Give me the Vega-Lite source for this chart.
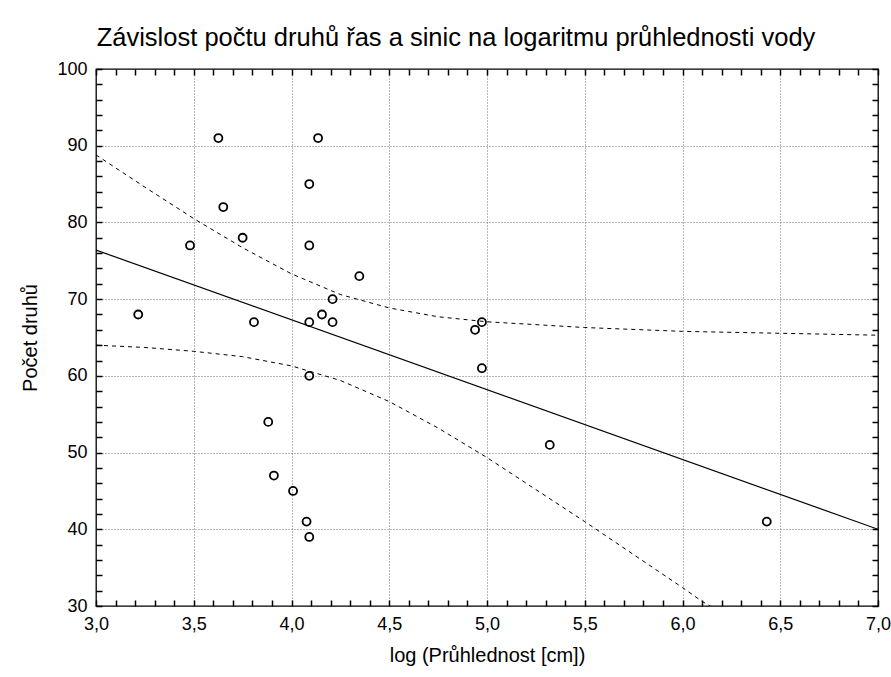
{
  "$schema": "https://vega.github.io/schema/vega-lite/v6.json",
  "autosize": {"type": "none"},
  "padding": {"left": 96, "top": 69, "right": 13, "bottom": 71},
  "width": 782,
  "height": 537,
  "background": "white",
  "title": {
    "text": "Závislost počtu druhů řas a sinic na logaritmu průhlednosti vody",
    "font": "Liberation Sans",
    "fontSize": 25.5,
    "fontWeight": "normal",
    "color": "#000000",
    "anchor": "middle",
    "frame": "group",
    "dx": -31,
    "offset": 9
  },
  "config": {"view": {"stroke": "#000000", "strokeWidth": 1.3}},
  "datasets": {
    "points": [
      {"x": 3.216, "y": 68}, {"x": 3.626, "y": 91}, {"x": 3.651, "y": 82}, {"x": 3.481, "y": 77},
      {"x": 4.136, "y": 91}, {"x": 4.091, "y": 85}, {"x": 3.750, "y": 78}, {"x": 4.091, "y": 77},
      {"x": 4.347, "y": 73}, {"x": 4.210, "y": 70}, {"x": 3.808, "y": 67}, {"x": 4.091, "y": 67},
      {"x": 4.156, "y": 68}, {"x": 4.210, "y": 67}, {"x": 4.091, "y": 60}, {"x": 3.881, "y": 54},
      {"x": 3.910, "y": 47}, {"x": 4.008, "y": 45}, {"x": 4.077, "y": 41}, {"x": 4.091, "y": 39},
      {"x": 4.939, "y": 66}, {"x": 4.974, "y": 67}, {"x": 4.974, "y": 61}, {"x": 5.321, "y": 51},
      {"x": 6.431, "y": 41}
    ],
    "fit": [{"x": 3.0, "y": 76.4}, {"x": 7.0, "y": 40.0}],
    "upper": [
      {"x": 3.0, "y": 88.8}, {"x": 3.25, "y": 84.6}, {"x": 3.5, "y": 80.5}, {"x": 3.75, "y": 76.7},
      {"x": 4.0, "y": 73.3}, {"x": 4.25, "y": 70.6}, {"x": 4.5, "y": 68.85}, {"x": 4.75, "y": 67.7},
      {"x": 5.0, "y": 67.05}, {"x": 5.5, "y": 66.3}, {"x": 6.0, "y": 65.8}, {"x": 6.5, "y": 65.55},
      {"x": 7.0, "y": 65.3}
    ],
    "lower": [
      {"x": 3.0, "y": 64.0}, {"x": 3.25, "y": 63.7}, {"x": 3.5, "y": 63.2}, {"x": 3.75, "y": 62.5},
      {"x": 4.0, "y": 61.3}, {"x": 4.25, "y": 59.4}, {"x": 4.5, "y": 56.65}, {"x": 4.75, "y": 53.2},
      {"x": 5.0, "y": 49.35}, {"x": 5.5, "y": 41.0}, {"x": 6.0, "y": 32.4}, {"x": 6.1, "y": 30.6},
      {"x": 6.25, "y": 28.4}
    ]
  },
  "resolve": {"axis": {"x": "independent", "y": "independent"}},
  "layer": [
    {
      "data": {"name": "lower"},
      "mark": {"type": "line", "color": "#000000", "strokeWidth": 1, "strokeDash": [4, 4], "clip": true},
      "encoding": {
        "x": {
          "field": "x", "type": "quantitative",
          "scale": {"domain": [3, 7], "nice": false, "zero": false},
          "axis": {
            "orient": "bottom",
            "title": "log (Průhlednost [cm])",
            "titleFont": "Liberation Sans", "titleFontSize": 20, "titleFontWeight": "normal", "titleColor": "#000000",
            "labelFont": "Liberation Sans", "labelFontSize": 18, "labelColor": "#000000",
            "values": [3.0,3.1,3.2,3.3,3.4,3.5,3.6,3.7,3.8,3.9,4.0,4.1,4.2,4.3,4.4,4.5,4.6,4.7,4.8,4.9,5.0,5.1,5.2,5.3,5.4,5.5,5.6,5.7,5.8,5.9,6.0,6.1,6.2,6.3,6.4,6.5,6.6,6.7,6.8,6.9,7.0],
            "labelExpr": "round(datum.value*10) % 5 == 0 ? replace(format(datum.value, '.1f'), '.', ',') : ''",
            "offset": -6,
            "ticks": true,
            "tickSize": 6,
            "tickColor": "#000000",
            "tickWidth": 1.5,
            "labelPadding": 9,
            "labelFlush": false,
            "labelOverlap": false,
            "domain": false,
            "grid": true,
            "gridColor": "#707070",
            "gridDash": [1, 2],
            "gridOpacity": {"condition": {"test": "round(datum.value*10) % 5 == 0 && datum.value > 3.01 && datum.value < 6.99", "value": 1}, "value": 0},
            "titlePadding": 12
          }
        },
        "y": {
          "field": "y", "type": "quantitative",
          "scale": {"domain": [30, 100], "nice": false, "zero": false},
          "axis": {
            "orient": "left",
            "title": "Počet druhů",
            "titleFont": "Liberation Sans", "titleFontSize": 20, "titleFontWeight": "normal", "titleColor": "#000000",
            "labelFont": "Liberation Sans", "labelFontSize": 18, "labelColor": "#000000",
            "values": [30,32,34,36,38,40,42,44,46,48,50,52,54,56,58,60,62,64,66,68,70,72,74,76,78,80,82,84,86,88,90,92,94,96,98,100],
            "labelExpr": "datum.value % 10 == 0 ? datum.label : ''",
            "offset": -6,
            "ticks": true,
            "tickSize": 6,
            "tickColor": "#000000",
            "tickWidth": 1.5,
            "labelPadding": 9,
            "labelOverlap": false,
            "labelFlush": false,
            "domain": false,
            "grid": true,
            "gridColor": "#707070",
            "gridDash": [1, 2],
            "gridOpacity": {"condition": {"test": "datum.value % 10 == 0 && datum.value > 30 && datum.value < 100", "value": 1}, "value": 0},
            "titlePadding": 16
          }
        }
      }
    },
    {
      "data": {"name": "upper"},
      "mark": {"type": "line", "color": "#000000", "strokeWidth": 1, "strokeDash": [4, 4], "clip": true},
      "encoding": {
        "x": {"field": "x", "type": "quantitative", "axis": null},
        "y": {"field": "y", "type": "quantitative", "axis": null}
      }
    },
    {
      "data": {"name": "fit"},
      "mark": {"type": "line", "color": "#000000", "strokeWidth": 1.2, "clip": true},
      "encoding": {
        "x": {
          "field": "x", "type": "quantitative",
          "axis": {
            "orient": "top", "title": null, "labels": false, "grid": false, "domain": false,
            "offset": -6,
            "ticks": true,
            "tickSize": 6,
            "tickColor": "#000000",
            "tickWidth": 1.5,
            "values": [3.0,3.1,3.2,3.3,3.4,3.5,3.6,3.7,3.8,3.9,4.0,4.1,4.2,4.3,4.4,4.5,4.6,4.7,4.8,4.9,5.0,5.1,5.2,5.3,5.4,5.5,5.6,5.7,5.8,5.9,6.0,6.1,6.2,6.3,6.4,6.5,6.6,6.7,6.8,6.9,7.0]
          }
        },
        "y": {
          "field": "y", "type": "quantitative",
          "axis": {
            "orient": "right", "title": null, "labels": false, "grid": false, "domain": false,
            "offset": -6,
            "ticks": true,
            "tickSize": 6,
            "tickColor": "#000000",
            "tickWidth": 1.5,
            "values": [30,32,34,36,38,40,42,44,46,48,50,52,54,56,58,60,62,64,66,68,70,72,74,76,78,80,82,84,86,88,90,92,94,96,98,100]
          }
        }
      }
    },
    {
      "data": {"name": "points"},
      "mark": {"type": "point", "shape": "circle", "filled": false, "color": "#000000", "strokeWidth": 1.8, "size": 64, "opacity": 1},
      "encoding": {
        "x": {"field": "x", "type": "quantitative", "axis": null},
        "y": {"field": "y", "type": "quantitative", "axis": null}
      }
    }
  ]
}
